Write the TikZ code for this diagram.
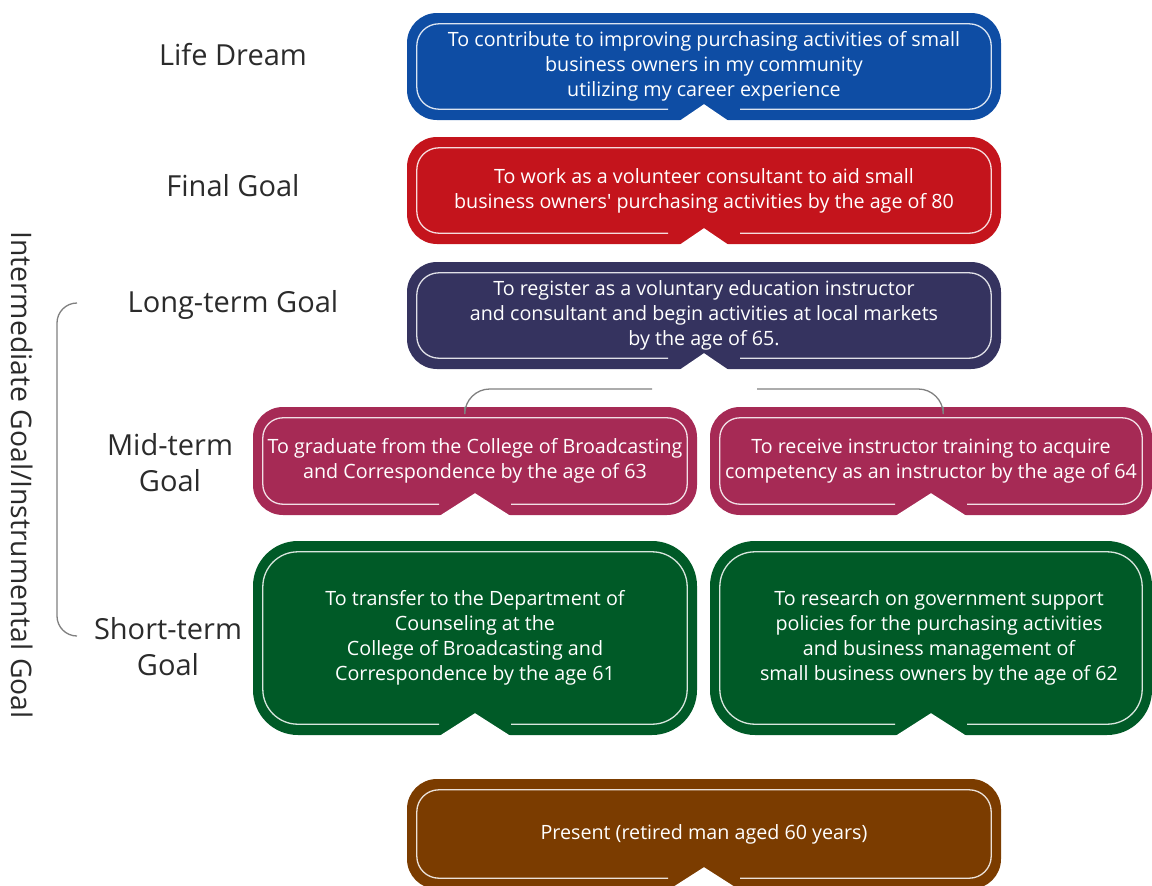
\documentclass[tikz,border=0pt]{standalone}
\usepackage{fontspec}
\setmainfont{Open Sans}[Ligatures=TeXOff]

\definecolor{dreamblue}{HTML}{0E4DA4}
\definecolor{finalred}{HTML}{C4141C}
\definecolor{longnavy}{HTML}{35335F}
\definecolor{midrose}{HTML}{A62A55}
\definecolor{shortgreen}{HTML}{005A27}
\definecolor{nowbrown}{HTML}{7B3C00}
\definecolor{linkgrey}{HTML}{808080}
\definecolor{labelgrey}{HTML}{2B2B2B}

% inner white rim with a gap, and the notch cut into the bottom edge
% #1 node, #2 notch half width, #3 notch depth, #4 rim radius
\newcommand{\rimnotch}[4]{%
  \draw[rim, rounded corners=#4] ([xshift=36pt,yshift=11pt]#1.south)
    -- ([xshift=-10pt,yshift=11pt]#1.south east)
    -- ([xshift=-10pt,yshift=-11pt]#1.north east)
    -- ([xshift=10pt,yshift=-11pt]#1.north west)
    -- ([xshift=10pt,yshift=11pt]#1.south west)
    -- ([xshift=-36pt,yshift=11pt]#1.south);
  \fill[white] ([xshift=-#2,yshift=-1pt]#1.south) -- ([yshift=#3]#1.south)
    -- ([xshift=#2,yshift=-1pt]#1.south) -- cycle;
}

\tikzset{
  goal/.style={fill=#1, rounded corners=30pt, inner sep=0pt, text=white,
    align=center, font=\fontsize{19.7}{25}\selectfont},
  rim/.style={draw=white, draw opacity=.85, line width=1.3pt},
  level/.style={text=labelgrey, align=center, font=\fontsize{29}{36}\selectfont},
  link/.style={draw=linkgrey, line width=1.3pt, rounded corners=25pt}
}

\begin{document}
\begin{tikzpicture}[x=1pt,y=-1pt]
\useasboundingbox (0,0) rectangle (1152,886);

% levels on the left
\node[level] (lbldream) at (233,55) {Life Dream};
\node[level] (lblfinal) at (233,186) {Final Goal};
\node[level] (lbllong) at (233,305) {Long-term Goal};
\node[level] (lblmid) at (170,463) {Mid-term\\Goal};
\node[level] (lblshort) at (168,647) {Short-term\\Goal};
\node[level, rotate=-90, font=\fontsize{28.3}{30}\selectfont] (lblinter) at (22,475)
  {Intermediate Goal/Instrumental Goal};
\draw[link, rounded corners=20pt] (77,303) -- (57,303) -- (57,636) -- (77,636);

% goal boxes
\node[goal=dreamblue, minimum width=594pt, minimum height=107pt] (dream) at (704,66.5)
  {To contribute to improving purchasing activities of small\\
   business owners in my community\\
   utilizing my career experience};
\rimnotch{dream}{25pt}{16pt}{22pt}

\node[goal=finalred, minimum width=594pt, minimum height=107pt] (final) at (704,190.5)
  {To work as a volunteer consultant to aid small\\
   business owners' purchasing activities by the age of 80};
\rimnotch{final}{25pt}{16pt}{22pt}

\node[goal=longnavy, minimum width=594pt, minimum height=107pt] (longterm) at (704,315.5)
  {To register as a voluntary education instructor\\
   and consultant and begin activities at local markets\\
   by the age of 65.};
\rimnotch{longterm}{25pt}{16pt}{22pt}

\node[goal=midrose, minimum width=444pt, minimum height=108pt] (midleft) at (475,461)
  {To graduate from the College of Broadcasting\\
   and Correspondence by the age of 63};
\rimnotch{midleft}{36pt}{22pt}{20pt}

\node[goal=midrose, minimum width=442pt, minimum height=108pt] (midright) at (931,461)
  {To receive instructor training to acquire\\
   competency as an instructor by the age of 64};
\rimnotch{midright}{36pt}{22pt}{20pt}

\node[goal=shortgreen, rounded corners=45pt, minimum width=444pt, minimum height=194pt]
  (shortleft) at (475,638)
  {To transfer to the Department of\\
   Counseling at the\\
   College of Broadcasting and\\
   Correspondence by the age 61};
\rimnotch{shortleft}{36pt}{22pt}{35pt}

\node[goal=shortgreen, rounded corners=45pt, minimum width=442pt, minimum height=194pt]
  (shortright) at (931,638)
  {\hspace*{16pt}To research on government support\\
   \hspace*{16pt}policies for the purchasing activities\\
   \hspace*{16pt}and business management of\\
   \hspace*{16pt}small business owners by the age of 62};
\rimnotch{shortright}{36pt}{22pt}{35pt}

\node[goal=nowbrown, minimum width=594pt, minimum height=110pt] (present) at (704,834)
  {Present (retired man aged 60 years)};
\rimnotch{present}{36pt}{22pt}{22pt}

% split from the long-term goal to the two mid-term goals
\coordinate (gapl) at (652,389);
\coordinate (gapr) at (757,389);
\draw[link] ([xshift=212pt]midleft.north west) |- (gapl);
\draw[link] ([xshift=-209pt]midright.north east) |- (gapr);

\end{tikzpicture}
\end{document}
